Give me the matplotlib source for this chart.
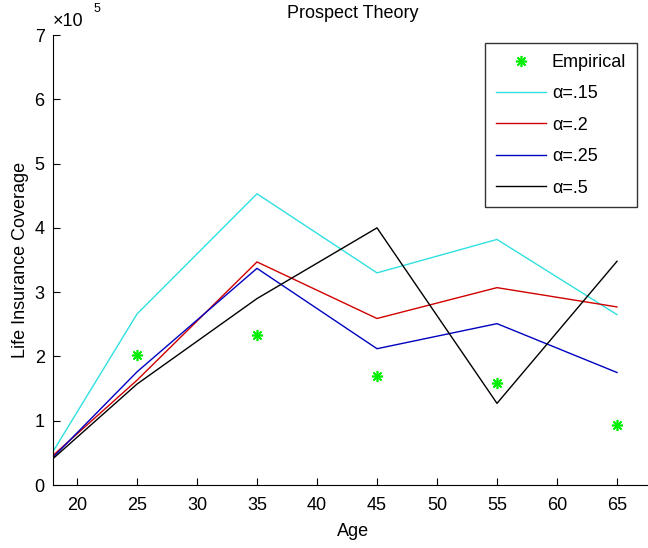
import matplotlib
matplotlib.use('Agg')
import matplotlib.pyplot as plt
from matplotlib.ticker import FuncFormatter

plt.rcParams['font.family'] = ['Liberation Sans', 'DejaVu Sans']

# Data
emp_age = [25, 35, 45, 55, 65]
emp_cov = [203000, 233000, 169000, 158000, 93000]

age = [18, 25, 35, 45, 55, 65]
cov_15 = [52000, 266000, 453000, 330000, 382000, 265000]
cov_2 = [46000, 163000, 347000, 259000, 307000, 277000]
cov_25 = [43000, 176000, 337000, 212000, 251000, 175000]
cov_5 = [41000, 157000, 290000, 400000, 127000, 348000]

fs = 13

fig = plt.figure(figsize=(6.48, 5.48), dpi=100)
# axes run past the right edge of the picture, like the cropped reference
ax = fig.add_axes([53 / 648, 1 - 485 / 548, 600 / 648, 450 / 548])

ax.plot(emp_age, emp_cov, linestyle='none', marker=(8, 2, 0), color='#00ee00',
        markersize=8, markeredgewidth=1.2, label='Empirical')
ax.plot(age, cov_15, color='#30e0e0', lw=1, label='α=.15')
ax.plot(age, cov_2, color='#d00000', lw=1, label='α=.2')
ax.plot(age, cov_25, color='#0000c0', lw=1, label='α=.25')
ax.plot(age, cov_5, color='black', lw=1, label='α=.5')

ax.set_xlim(18, 68)
ax.set_ylim(0, 700000)
ax.set_xticks([20, 25, 30, 35, 40, 45, 50, 55, 60, 65])
ax.set_yticks([i * 100000 for i in range(8)])
ax.yaxis.set_major_formatter(FuncFormatter(lambda v, p: '%d' % round(v / 1e5)))
ax.tick_params(direction='in', length=5, labelsize=fs)
ax.tick_params(axis='x', pad=9)
ax.tick_params(axis='y', pad=6)
ax.spines['top'].set_visible(False)
ax.spines['right'].set_visible(False)

ax.text(0.0, 1.012, '×10', transform=ax.transAxes, fontsize=fs, va='bottom', ha='left')
ax.text(0.068, 1.045, '5', transform=ax.transAxes, fontsize=9, va='bottom', ha='left')

ax.set_title('Prospect Theory', fontsize=fs, pad=12)
ax.set_xlabel('Age', fontsize=fs, labelpad=6)
ax.set_ylabel('Life Insurance Coverage', fontsize=fs, labelpad=4)

# legend box: right edge at x=637 px, top at y=43 px
leg = ax.legend(loc='upper right', bbox_to_anchor=((637 - 53) / 600, (485 - 43) / 450),
                borderaxespad=0, fancybox=False, edgecolor='black', handlelength=2.8,
                handletextpad=0.3, labelspacing=0.8, fontsize=fs, borderpad=0.6,
                numpoints=1)
leg.get_frame().set_linewidth(1)

fig.savefig('out.png', dpi=100)
